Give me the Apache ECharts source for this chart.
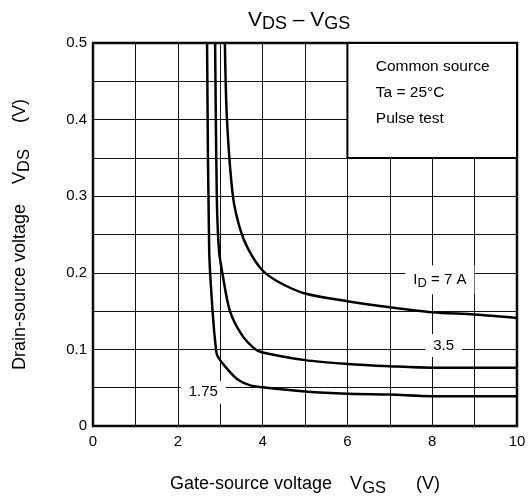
<!DOCTYPE html>
<html>
<head>
<meta charset="utf-8">
<script src="https://cdn.jsdelivr.net/npm/echarts@6/dist/echarts.min.js"></script>
<style>html,body{margin:0;padding:0;background:#fff}#c{width:532px;height:500px}</style>
</head>
<body>
<div id="c"></div>
<script>
// Data (VGS in V, VDS in V)
const curve7A = [[3.11,0.5],[3.16,0.4],[3.3,0.3],[3.47,0.257],[3.67,0.23],[4.0,0.203],[4.41,0.187],[5,0.173],[6,0.163],[7,0.155],[8,0.1485],[9,0.1455],[10,0.141]];
const curve35A = [[2.88,0.5],[2.92,0.3],[2.97,0.23],[3.05,0.2],[3.23,0.15],[3.51,0.119],[3.83,0.1],[4.0,0.096],[5,0.086],[6,0.081],[7,0.078],[8,0.076],[10,0.076]];
const curve175A = [[2.69,0.5],[2.74,0.23],[2.82,0.15],[2.9,0.1],[2.94,0.091],[3.19,0.073],[3.43,0.06],[3.71,0.053],[4.0,0.0505],[5,0.045],[6,0.042],[7,0.041],[8,0.039],[10,0.039]];
const curveNames = ['7 A','3.5','1.75'];
const curveLabelAt = [[8.18,0.191],[8.27,0.105],[2.6,0.044]];
const noteBox = [[6,0.35],[10,0.5]];
const noteAt = [6.67,0.435];
const noteLines = ['Common source','Ta = 25°C','Pulse test'];
const xTicks = [0,2,4,6,8,10];
const yTicks = [0,0.1,0.2,0.3,0.4,0.5];

const FONT = 'Liberation Sans, Arial, sans-serif';
const chart = echarts.init(document.getElementById('c'));

function mkLabel(i){
  return {
    show:true, position:'inside', color:'#000', fontFamily:FONT, fontSize:15,
    backgroundColor:'#fff', padding:[4,8,4,8],
    formatter: i===0 ? '{t|I}{s|D}{t| = '+curveNames[0]+'}' : curveNames[i],
    rich:{t:{fontSize:15,fontFamily:FONT,color:'#000'},s:{fontSize:13,fontFamily:FONT,color:'#000',padding:[8,0,0,0]}}
  };
}
function mkSeries(data,i){
  const pts = [{coord:curveLabelAt[i], label:mkLabel(i)}];
  if(i===0){
    pts.push({coord:noteAt, label:{show:true, position:'inside', align:'left', verticalAlign:'middle',
      color:'#000', fontFamily:FONT, fontSize:15.5, lineHeight:26, formatter:noteLines.join('\n')}});
  }
  const s = {
    type:'line', data:data, smooth:0.3, showSymbol:false, symbol:'none',
    lineStyle:{color:'#000',width:2.5}, silent:true, z:3,
    markPoint:{symbol:'circle', symbolSize:0, silent:true, data:pts}
  };
  if(i===0){
    s.markArea = {silent:true,
      itemStyle:{color:'#fff',borderColor:'#000',borderWidth:2},
      label:{show:false},
      data:[[{coord:noteBox[0]},{coord:noteBox[1]}]]};
  }
  return s;
}

const nameRich = (pl,pr)=>({
  n:{fontSize:18,fontFamily:FONT,color:'#000'},
  v:{fontSize:18,fontFamily:FONT,color:'#000',padding:[0,0,0,pl]},
  s:{fontSize:16.5,fontFamily:FONT,color:'#000',padding:[9,0,0,0]},
  p:{fontSize:18,fontFamily:FONT,color:'#000',padding:[0,0,0,pr]}});

chart.setOption({
  animation:false,
  backgroundColor:'#fff',
  title:{
    text:'{m|V}{s|DS}{m| – V}{s|GS}', left:243, top:2,
    textStyle:{fontWeight:'normal',rich:{m:{fontSize:21,fontWeight:'normal',fontFamily:FONT,color:'#000'},s:{fontSize:18,fontWeight:'normal',fontFamily:FONT,color:'#000',padding:[8,0,0,0]}}}
  },
  grid:{left:93,right:15,top:43,bottom:74,containLabel:false,outerBoundsMode:'none',show:true,borderColor:'#000',borderWidth:2.5,backgroundColor:'transparent'},
  xAxis:{
    type:'value', min:0, max:10, interval:1,
    axisLine:{show:false}, axisTick:{show:false},
    splitLine:{show:true,lineStyle:{color:'#111',width:1}},
    axisLabel:{color:'#000',fontFamily:FONT,fontSize:15,margin:8,
      formatter:v=>xTicks.indexOf(v)>=0?String(v):''},
    name:'{n|Gate-source voltage}{v|V}{s|GS}{p|(V)}', nameLocation:'middle', nameGap:45,
    nameTextStyle:{rich:nameRich(18,30)}
  },
  yAxis:{
    type:'value', min:0, max:0.5, interval:0.05,
    axisLine:{show:false}, axisTick:{show:false},
    splitLine:{show:true,lineStyle:{color:'#111',width:1}},
    axisLabel:{color:'#000',fontFamily:FONT,fontSize:15,margin:6,
      formatter:v=>{const r=Math.round(v*100)/100; return yTicks.indexOf(r)>=0?String(r):'';}},
    name:'{n|Drain-source voltage}{v|V}{s|DS}{p|(V)}', nameLocation:'middle', nameGap:60, nameRotate:90,
    nameTextStyle:{rich:nameRich(20,26)}
  },
  series:[mkSeries(curve7A,0),mkSeries(curve35A,1),mkSeries(curve175A,2)]
});
</script>
</body>
</html>
